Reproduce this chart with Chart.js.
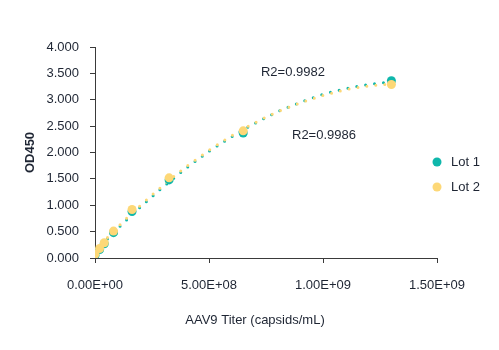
<!DOCTYPE html>
<html>
<head>
<meta charset="utf-8">
<script src="https://cdn.jsdelivr.net/npm/chart.js@4.4.1/dist/chart.umd.min.js"></script>
<style>
  html, body { margin: 0; padding: 0; background: #fff; }
</style>
</head>
<body>
<canvas id="odChart" width="499" height="350"></canvas>
<script>
const lotNames = ['Lot 1', 'Lot 2'];
const titers = [0, 2.03e7, 4.06e7, 8.13e7, 1.625e8, 3.25e8, 6.5e8, 1.3e9];
const lot1OD = [0.05, 0.16, 0.27, 0.48, 0.88, 1.48, 2.37, 3.36];
const lot2OD = [0.07, 0.18, 0.29, 0.51, 0.92, 1.52, 2.41, 3.29];

// polynomial trendlines, sampled every 1e8
const fitTiters = [0, 1e8, 2e8, 3e8, 4e8, 5e8, 6e8, 7e8, 8e8, 9e8, 1e9, 1.1e9, 1.2e9, 1.3e9];
const lot1Fit = [0.11, 0.56, 0.97, 1.35, 1.70, 2.02, 2.30, 2.55, 2.77, 2.95, 3.10, 3.21, 3.29, 3.34];
const lot2Fit = [0.14, 0.59, 1.00, 1.38, 1.73, 2.04, 2.32, 2.56, 2.77, 2.94, 3.08, 3.19, 3.26, 3.30];
const rSquared = ['R2=0.9982', 'R2=0.9986'];

const xTickLabels = ['0.00E+00', '5.00E+08', '1.00E+09', '1.50E+09'];
const yTickLabels = ['0.000', '0.500', '1.000', '1.500', '2.000', '2.500', '3.000', '3.500', '4.000'];

const TEAL = '#0fb7ab';
const GOLD = '#fdd877';
const INK = '#1e2533';
const AXIS = '#3a3a3a';
const FONT = '"Liberation Sans", Arial, sans-serif';

const toPoints = (xs, ys) => xs.map((x, i) => ({ x, y: ys[i] }));

function trendSet(label, ys, color, order) {
    return {
        label,
        data: toPoints(fitTiters, ys),
        showLine: true,
        borderColor: color,
        borderWidth: 3,
        borderDash: [0, 9],
        borderCapStyle: 'round',
        cubicInterpolationMode: 'monotone',
        pointRadius: 0,
        order
    };
}

function pointSet(label, ys, color, order) {
    return {
        label,
        data: toPoints(titers, ys),
        backgroundColor: color,
        borderColor: color,
        borderWidth: 0,
        pointRadius: 4.5,
        order
    };
}

// legend, x title and R2 notes
const extras = {
    id: 'extras',
    afterDraw(chart) {
        const { ctx, scales: { x, y } } = chart;
        ctx.save();
        ctx.fillStyle = INK;
        ctx.font = `13px ${FONT}`;
        ctx.textBaseline = 'middle';
        ctx.textAlign = 'left';

        ctx.fillText(rSquared[0], x.getPixelForValue(7.28e8), y.getPixelForValue(3.52));
        ctx.fillText(rSquared[1], x.getPixelForValue(8.64e8), y.getPixelForValue(2.32));

        ctx.textAlign = 'center';
        ctx.fillText('AAV9 Titer (capsids/mL)', 255, 320);

        [TEAL, GOLD].forEach((c, i) => {
            const cy = 162 + i * 25;
            ctx.beginPath();
            ctx.arc(437, cy, 4.5, 0, Math.PI * 2);
            ctx.fillStyle = c;
            ctx.fill();
            ctx.fillStyle = INK;
            ctx.textAlign = 'left';
            ctx.fillText(lotNames[i], 451, cy);
        });
        ctx.restore();
    }
};

new Chart(document.getElementById('odChart'), {
    type: 'scatter',
    data: {
        datasets: [
            pointSet(lotNames[1], lot2OD, GOLD, 0),
            pointSet(lotNames[0], lot1OD, TEAL, 1),
            trendSet(lotNames[1] + ' fit', lot2Fit, GOLD, 2),
            trendSet(lotNames[0] + ' fit', lot1Fit, TEAL, 3)
        ]
    },
    options: {
        responsive: false,
        animation: false,
        devicePixelRatio: 1,
        layout: { padding: { left: 0, right: 62, top: 47, bottom: 0 } },
        plugins: {
            legend: { display: false },
            tooltip: { enabled: false }
        },
        scales: {
            x: {
                type: 'linear',
                min: 0,
                max: 1.5e9,
                afterFit: s => { s.height = 92; },
                ticks: {
                    stepSize: 5e8,
                    padding: 15,
                    color: INK,
                    font: { family: FONT, size: 13 },
                    maxRotation: 0,
                    callback: (v, i) => xTickLabels[i]
                },
                grid: { drawOnChartArea: false, drawTicks: true, tickLength: 5, color: AXIS },
                border: { color: AXIS, width: 1 }
            },
            y: {
                min: 0,
                max: 4,
                afterFit: s => { s.width = 95; },
                ticks: {
                    stepSize: 0.5,
                    padding: 11,
                    color: INK,
                    font: { family: FONT, size: 13 },
                    callback: (v, i) => yTickLabels[i]
                },
                grid: { drawOnChartArea: false, drawTicks: true, tickLength: 5, color: AXIS },
                border: { color: AXIS, width: 1 },
                title: {
                    display: true,
                    text: 'OD450',
                    color: INK,
                    font: { family: FONT, size: 13, weight: 'bold' },
                    padding: { top: 23, bottom: 0 }
                }
            }
        }
    },
    plugins: [extras]
});
</script>
</body>
</html>
